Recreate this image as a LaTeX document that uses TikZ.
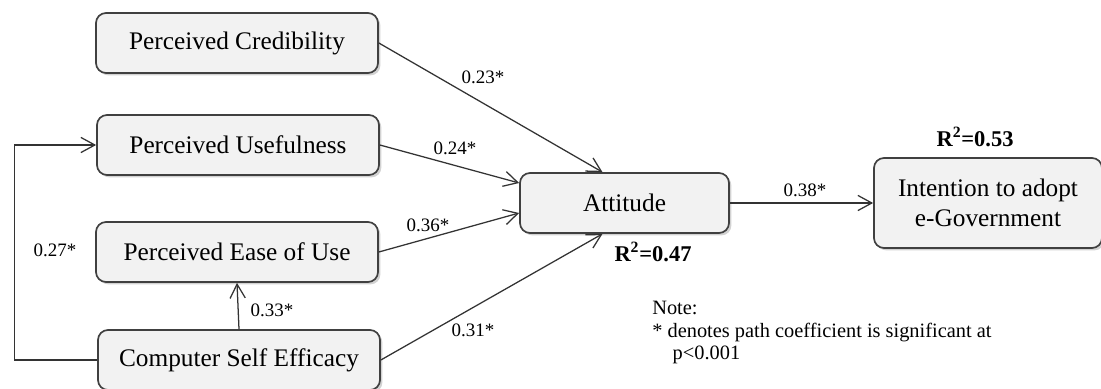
\documentclass[tikz,border=0pt]{standalone}
\usepackage{fontspec}
\setmainfont{Liberation Serif}
\usetikzlibrary{arrows.meta,shadows}

\begin{document}
\begin{tikzpicture}[auto,
    construct/.style={draw=black!75, line width=1.2pt, fill=black!5, rounded corners=0.25cm,
      drop shadow={shadow xshift=0.06cm, shadow yshift=-0.06cm, fill=black!35},
      minimum width=7.05cm, minimum height=1.5cm, font=\fontsize{18}{21}\selectfont},
    link/.style={draw=black!80, line width=0.9pt, -{Straight Barb[length=3.5mm,width=3.8mm]}},
    coef/.style={font=\fontsize{13.5}{16}\selectfont, inner sep=0pt},
    rsq/.style={font=\fontsize{16}{19}\selectfont\bfseries, inner sep=0pt}]
    \useasboundingbox (0,0) rectangle (27.525,9.725);
    \node[construct] (cred) at (5.925, 8.65) {Perceived Credibility};
    \node[construct] (use)  at (5.95, 6.10)  {Perceived Usefulness};
    \node[construct] (ease) at (5.925, 3.425) {Perceived Ease of Use};
    \node[construct] (cse)  at (5.975, 0.725) {Computer Self Efficacy};
    \node[construct, minimum width=5.225cm] (att) at (15.6125, 4.65) {Attitude};
    \node[construct, minimum width=5.7cm, minimum height=2.25cm, align=center] (int) at (24.7, 4.65) {Intention to adopt\\ e-Government};
    \draw[link] (cred.east) to ([xshift=-0.55cm]att.north);
    \draw[link] (use.east) to ([yshift=0.5cm]att.west);
    \draw[link] (ease.east) to ([yshift=-0.25cm]att.west);
    \draw[link] (cse.east) to ([xshift=-0.55cm]att.south);
    \draw[link] (att.east) to (int.west);
    \draw[link] (cse.north) to (ease.south);
    \draw[link] (cse.west) -- ++(-2.075,0) |- (use.west);
    \node[coef] (c1) at (12.075, 7.8)  {0.23*};
    \node[coef] (c2) at (11.375, 6.025) {0.24*};
    \node[coef] (c3) at (10.7, 4.1)    {0.36*};
    \node[coef] (c4) at (11.825, 1.475) {0.31*};
    \node[coef] (c5) at (20.125, 4.975) {0.38*};
    \node[coef] (c6) at (6.8, 1.975)   {0.33*};
    \node[coef] (c7) at (1.375, 3.475) {0.27*};
    \node[rsq] (r1) at (16.325, 3.425) {R\textsuperscript{2}=0.47};
    \node[rsq] (r2) at (24.375, 6.3)   {R\textsuperscript{2}=0.53};
    \node[anchor=north west, align=left, inner sep=0pt, font=\fontsize{14.5}{16}\selectfont] (note) at (16.3, 2.2)
      {Note:\\ * denotes path coefficient is significant at\\ \hspace*{1em}p<0.001};
  \end{tikzpicture}
\end{document}
